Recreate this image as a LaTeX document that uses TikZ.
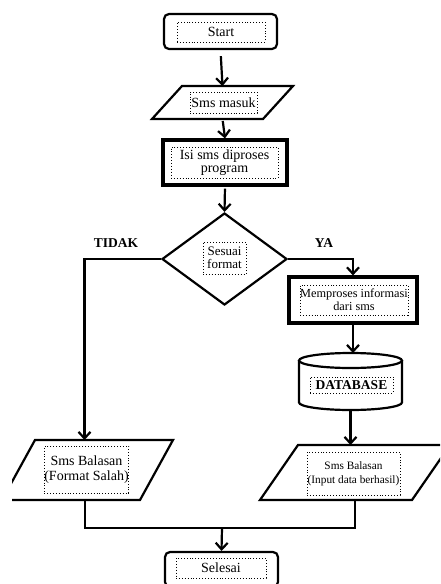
\documentclass[tikz,border=0pt]{standalone}
\usepackage{fontspec}
\setmainfont{Liberation Serif}
\usetikzlibrary{shapes.geometric,arrows.meta,calc}
\tikzset{
  ln/.style={line width=2.2pt, line join=miter},
  arr/.style={ln, -{Straight Barb[length=6.5pt,width=12pt]}},
  term/.style={ln, draw, rounded corners=5pt, inner sep=0pt},
  procbox/.style={draw, line width=3.2pt, inner sep=0pt},
  ghost/.style={inner sep=0pt, outer sep=0pt},
  decbox/.style={ln, draw, diamond, inner sep=0pt},
  txt/.style={draw, dotted, line width=0.9pt, inner sep=0pt, align=center,
    font=\fontsize{14}{15}\selectfont},
  lab/.style={font=\fontsize{13.5}{15}\selectfont\bfseries}
}
\begin{document}
\begin{tikzpicture}[x=1pt,y=-1pt]
\useasboundingbox (0,0) rectangle (440,584);
\fill[white] (0,0) rectangle (440,584);
\begin{scope}
\clip (12,0) rectangle (440,584);
% shapes
\node[term, minimum width=113pt, minimum height=35pt] (start) at (220.5,31.5) {};
\node[ghost, minimum width=141pt, minimum height=33pt] (masuk) at (222.5,102.5) {};
\draw[ln] ([xshift=30pt]masuk.north west) -- (masuk.north east) -- ([xshift=-30pt]masuk.south east) -- (masuk.south west) -- cycle;
\node[procbox, minimum width=124pt, minimum height=45pt] (isi) at (225,162.5) {};
\node[decbox, minimum width=125pt, minimum height=92pt] (dia) at (224.5,259) {};
\node[procbox, minimum width=128pt, minimum height=46pt] (mem) at (353,300) {};
\node[ghost, minimum width=103pt, minimum height=57pt] (db) at (350.5,381.5) {};
\draw[ln] ([yshift=-7.5pt]db.north west) -- ([yshift=7.5pt]db.south west)
  arc[start angle=180, end angle=360, x radius=51.5pt, y radius=7.5pt]
  -- ([yshift=-7.5pt]db.north east);
\draw[ln] ([yshift=-7.5pt]db.north) ellipse [x radius=51.5pt, y radius=7.5pt];
\node[ghost, minimum width=171pt, minimum height=60pt] (bl) at (87.5,470) {};
\draw[ln] ([xshift=33pt]bl.north west) -- (bl.north east) -- ([xshift=-33pt]bl.south east) -- (bl.south west) -- cycle;
\node[ghost, minimum width=190pt, minimum height=55pt] (br) at (355,472.5) {};
\draw[ln] ([xshift=38pt]br.north west) -- (br.north east) -- ([xshift=-38pt]br.south east) -- (br.south west) -- cycle;
\node[term, minimum width=113pt, minimum height=35pt] (sel) at (221.5,569.5) {};
% texts
\node[txt, minimum width=88pt, minimum height=20pt] (tstart) at (221,32) {Start};
\node[txt, minimum width=67pt, minimum height=21pt] (tmasuk) at (223.5,102.5) {Sms masuk};
\node[txt, minimum width=107pt, minimum height=31pt] (tisi) at (224.5,162.5) {Isi sms diproses\\[-2pt]program};
\node[txt, minimum width=43pt, minimum height=32pt, font=\fontsize{13}{14}\selectfont] (tdia) at (224.5,258) {Sesuai\\[-1pt]format};
\node[txt, minimum width=108pt, minimum height=30pt, font=\fontsize{12.3}{14}\selectfont] (tmem) at (354,300) {Memproses informasi\\[-1pt]dari sms};
\node[txt, minimum width=83pt, minimum height=16pt, font=\fontsize{13.5}{15}\selectfont\bfseries] (tdb) at (351.5,385) {DATABASE};
\node[txt, minimum width=83pt, minimum height=47pt] (tbl) at (86.5,469.5) {Sms Balasan\\(Format Salah)};
\node[txt, minimum width=93pt, minimum height=43pt, font=\fontsize{11.3}{14}\selectfont] (tbr) at (353.5,473.5) {Sms Balasan\\(Input data berhasil)};
\node[txt, minimum width=90pt, minimum height=20pt] (tsel) at (221,568) {Selesai};
\node[lab] (tidak) at (116,243) {TIDAK};
\node[lab] (ya) at (324,243) {YA};
% connectors
\draw[arr, shorten <=6pt] (start.south) -- (masuk.north);
\draw[arr, shorten <=2pt] (masuk.south) -- (isi.north);
\draw[arr, shorten <=2pt] (isi.south) -- (dia.north);
\draw[arr] (dia.west) -| ([xshift=-3pt]bl.north);
\draw[arr] (dia.east) -| (mem.north);
\draw[arr] (mem.south) -- (mem.south |- db.north);
\draw[arr] (db.south) -- (db.south |- br.north);
\coordinate (j) at (222,528);
\draw[ln] ([xshift=-2.5pt]bl.south) |- (j);
\draw[ln] (br.south) |- (j);
\draw[arr] (j) -- (sel.north);
\end{scope}
\end{tikzpicture}
\end{document}
